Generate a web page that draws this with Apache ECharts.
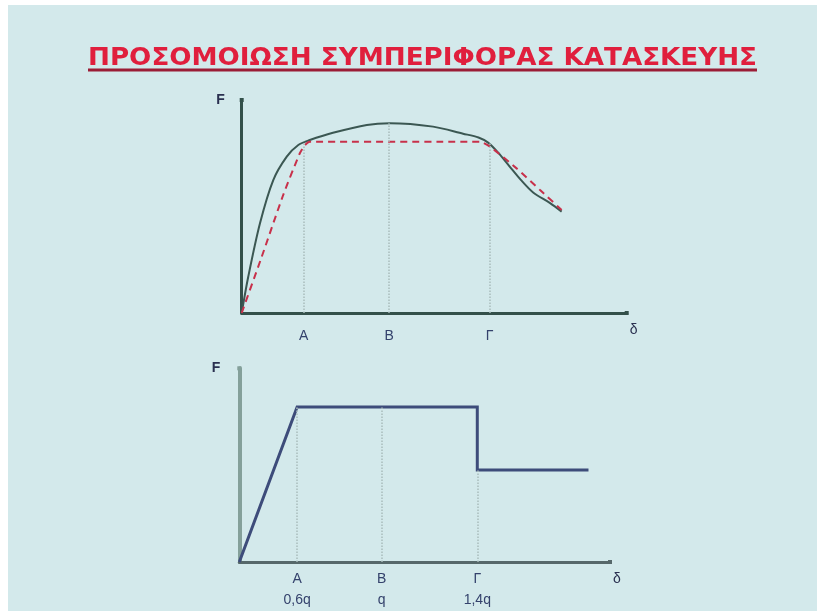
<!DOCTYPE html>
<html>
<head>
<meta charset="utf-8">
<script src="https://cdn.jsdelivr.net/npm/echarts@6/dist/echarts.min.js"></script>
<style>
  html, body { margin: 0; padding: 0; background: #ffffff; }
  #chart { width: 817px; height: 611px; }
</style>
</head>
<body>
<div id="chart"></div>
<script>
// Title
const titleText = 'ΠΡΟΣΟΜΟΙΩΣΗ ΣΥΜΠΕΡΙΦΟΡΑΣ ΚΑΤΑΣΚΕΥΗΣ';

// Upper diagram: real force–displacement response and its idealisation
const responseCurve = [[0, 0], [1.7, 17.0], [4.75, 42.1], [8.2, 62.4], [11.7, 73.4], [14.7, 78.9],
  [17.7, 81.2], [23.7, 84.6], [32.5, 88.3], [38.5, 89.1], [49.7, 87.5], [57.5, 84.2],
  [61.5, 82.4], [64.0, 80.0], [66.5, 75.5], [69.5, 69.0], [72.5, 62.5], [75.7, 56.6], [80.1, 51.6], [83.1, 47.6]];
const idealCurve = [[0, 0], [5.2, 26.4], [10.8, 55.5], [15.1, 75.0], [16.4, 78.8], [17.7, 80.4],
  [61.9, 80.4], [64.5, 78.1], [71.4, 67.9], [77.5, 57.7], [83.1, 48.4]];
const upperTicks = [16.1, 38.3, 64.4];
const upperTickLabels = ['A', 'B', 'Γ'];
const upperGuideTops = [80.4, 89.1, 80.0];

// Lower diagram: design (code) curve
const designCurve = [[0, 0], [15.6, 80], [64.2, 80], [64.2, 47.5], [94.2, 47.5]];
const lowerTicks = [15.6, 38.4, 64.2];
const lowerTickLabels = ['A', 'B', 'Γ'];
const lowerTickValues = ['0,6q', 'q', '1,4q'];
const lowerGuideTops = [80, 80, 47.5];

const labelColor = '#34426c';

function guideLines(ticks, tops) {
  return ticks.map((x, i) => [{ coord: [x, 0] }, { coord: [x, tops[i]] }]);
}

function xAxisFor(gridIndex, ticks, formatter, lineColor, margin, lineHeight) {
  return {
    type: 'value', gridIndex, min: 0, max: 100,
    name: 'δ', nameLocation: 'end', nameGap: 3,
    nameTextStyle: { color: '#2a3050', fontSize: 14, fontFamily: 'Liberation Sans', align: 'left', verticalAlign: 'top', lineHeight: 34 },
    axisLine: { show: true, symbol: ['none', 'rect'], symbolSize: [4, 4], lineStyle: { color: lineColor, width: 3 } },
    axisTick: { show: false },
    splitLine: { show: false },
    axisLabel: {
      customValues: ticks, margin, lineHeight,
      color: labelColor, fontSize: 14, fontFamily: 'Liberation Sans',
      formatter
    }
  };
}

function yAxisFor(gridIndex, lineColor, width, pad) {
  return {
    type: 'value', gridIndex, min: 0, max: 100,
    name: 'F', nameLocation: 'end', nameGap: 0,
    nameTextStyle: { color: '#2a3050', fontSize: 14, fontWeight: 'bold', fontFamily: 'Liberation Sans', align: 'right', verticalAlign: 'middle', padding: [0, pad, 0, 0] },
    axisLine: { show: true, symbol: ['none', 'rect'], symbolSize: [4, 4], lineStyle: { color: lineColor, width } },
    axisTick: { show: false },
    splitLine: { show: false },
    axisLabel: { show: false }
  };
}

const chart = echarts.init(document.getElementById('chart'), null, { renderer: 'canvas' });

// Stretch the title horizontally to span the heading band
const titleFont = 'bold 25px "DejaVu Sans"';
const mctx = document.createElement('canvas').getContext('2d');
mctx.font = titleFont;
const titleWidth = mctx.measureText(titleText).width;
const titleLeft = 88, titleRight = 757;
const titleScale = (titleRight - titleLeft) / titleWidth;

const upperFmt = v => upperTickLabels[upperTicks.indexOf(v)] ?? '';
const lowerFmt = v => {
  const i = lowerTicks.indexOf(v);
  return i < 0 ? '' : lowerTickLabels[i] + '\n' + lowerTickValues[i];
};

chart.setOption({
  backgroundColor: '#ffffff',
  animation: false,
  graphic: [
    { type: 'rect', z: -10, shape: { x: 8, y: 5, width: 809, height: 606 }, style: { fill: '#d3e9eb' } },
    {
      type: 'text', x: titleLeft, y: 58, scaleX: titleScale, scaleY: 1,
      style: { text: titleText, font: titleFont, fill: '#e01f3d', verticalAlign: 'middle', align: 'left' }
    },
    { type: 'line', shape: { x1: titleLeft, y1: 70, x2: titleRight, y2: 70 }, style: { stroke: '#9b1d36', lineWidth: 3 } }
  ],
  grid: [
    { left: 241.7, top: 100, width: 385, height: 213 },
    { left: 239.3, top: 368.3, width: 370.7, height: 195 }
  ],
  xAxis: [
    xAxisFor(0, upperTicks, upperFmt, '#33504a', 15, 16),
    xAxisFor(1, lowerTicks, lowerFmt, '#56686a', 7, 21)
  ],
  yAxis: [
    yAxisFor(0, '#33504a', 3, 17),
    yAxisFor(1, '#84a09a', 4, 19)
  ],
  series: [
    {
      type: 'line', xAxisIndex: 0, yAxisIndex: 0, data: responseCurve,
      smooth: 0.3, symbol: 'none',
      lineStyle: { color: '#3b5752', width: 2 },
      markLine: {
        silent: true, symbol: 'none', label: { show: false },
        lineStyle: { color: '#a9bcbc', type: 'dotted', width: 1.5 },
        data: guideLines(upperTicks, upperGuideTops)
      },
      z: 3
    },
    {
      type: 'line', xAxisIndex: 0, yAxisIndex: 0, data: idealCurve,
      smooth: 0.2, symbol: 'none',
      lineStyle: { color: '#c8304a', width: 2, type: [7, 5] },
      z: 4
    },
    {
      type: 'line', xAxisIndex: 1, yAxisIndex: 1, data: designCurve,
      symbol: 'none',
      lineStyle: { color: '#3d4c7a', width: 3, join: 'miter' },
      markLine: {
        silent: true, symbol: 'none', label: { show: false },
        lineStyle: { color: '#a9bcbc', type: 'dotted', width: 1.5 },
        data: guideLines(lowerTicks, lowerGuideTops)
      }
    }
  ]
});
</script>
</body>
</html>
